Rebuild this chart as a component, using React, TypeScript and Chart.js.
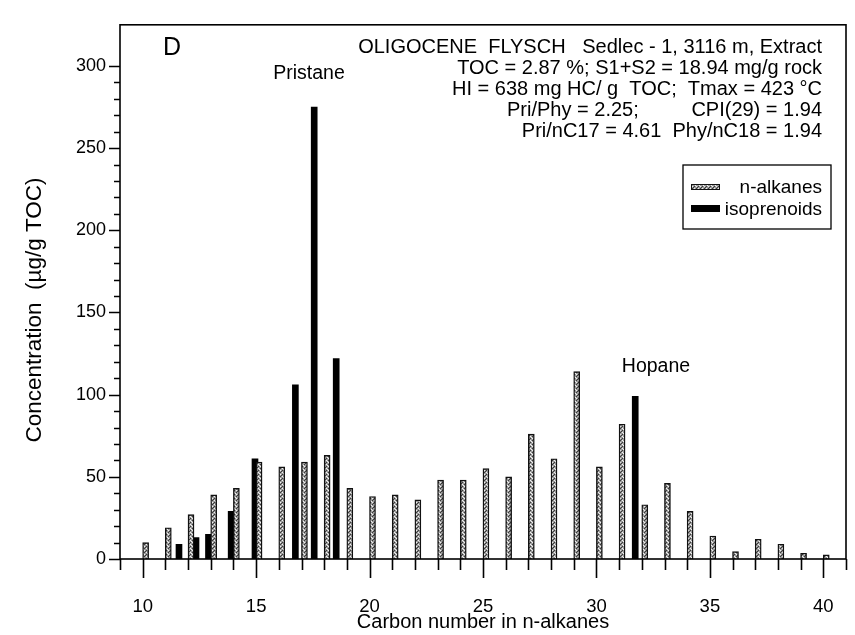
import React, { useEffect, useRef } from 'react';
import { Chart, registerables } from 'chart.js';

Chart.register(...registerables);

// ---- data ----
const nAlkaneCarbons = [10, 11, 12, 13, 14, 15, 16, 17, 18, 19, 20, 21, 22, 23, 24, 25, 26, 27, 28, 29, 30, 31, 32, 33, 34, 35, 36, 37, 38, 39, 40];
const nAlkaneValues = [10, 19, 27, 39, 43, 59, 56, 59, 63, 43, 38, 39, 36, 48, 48, 55, 50, 76, 61, 114, 56, 82, 33, 46, 29, 14, 4.5, 12, 9, 3.5, 2.5];

const isoprenoidPositions = [11.6, 12.35, 12.9, 13.9, 14.95, 16.73, 17.56, 18.53, 31.71];
const isoprenoidValues = [9, 13, 15, 29, 61, 106, 275, 122, 99];

const xTickLabels = [10, 15, 20, 25, 30, 35, 40];
const yTickLabels = [0, 50, 100, 150, 200, 250, 300];

const seriesNames = ['n-alkanes', 'isoprenoids'];
const xTitle = 'Carbon number in n-alkanes';
const yTitle = 'Concentration  (\u00b5g/g TOC)';
const panelLetter = 'D';
const infoLines = [
  'OLIGOCENE  FLYSCH   Sedlec - 1, 3116 m, Extract',
  'TOC = 2.87 %; S1+S2 = 18.94 mg/g rock',
  'HI = 638 mg HC/ g  TOC;  Tmax = 423 \u00b0C',
];
const infoLine4Left = 'Pri/Phy = 2.25;';
const infoLine4Right = 'CPI(29) = 1.94';
const infoLine5 = 'Pri/nC17 = 4.61  Phy/nC18 = 1.94';
const peakLabels = ['Pristane', 'Hopane'];

const FONT = '"Liberation Sans", Arial, Helvetica, sans-serif';

function makeStipple(): CanvasPattern | string {
  const c = document.createElement('canvas');
  c.width = 4;
  c.height = 4;
  const g = c.getContext('2d');
  if (!g) return '#999';
  g.fillStyle = '#9c9c9c';
  g.fillRect(0, 0, 4, 4);
  g.fillStyle = '#3a3a3a';
  g.fillRect(0, 0, 1, 1);
  g.fillRect(2, 2, 1, 1);
  g.fillRect(1, 3, 1, 1);
  g.fillStyle = '#f2f2f2';
  g.fillRect(2, 0, 1, 1);
  g.fillRect(0, 2, 1, 1);
  g.fillRect(3, 1, 1, 1);
  return g.createPattern(c, 'repeat') || '#999';
}

export default function App() {
  const ref = useRef<HTMLCanvasElement | null>(null);

  useEffect(() => {
    if (!ref.current) return;
    const stipple = makeStipple();

    const overlay = {
      id: 'overlay',
      afterDatasetsDraw(chart: any) {
        const { ctx, chartArea: a, scales } = chart;
        const xs = scales.x;
        const ys = scales.y;
        ctx.save();
        ctx.strokeStyle = '#000';
        ctx.lineWidth = 1.6;
        ctx.strokeRect(a.left, a.top, a.right - a.left, a.bottom - a.top);
        // ticks
        ctx.beginPath();
        for (let v = Math.ceil(xs.min); v <= xs.max; v++) {
          const px = Math.round(xs.getPixelForValue(v)) + 0.5;
          const len = v % 5 === 0 ? 19 : 11;
          ctx.moveTo(px, a.bottom);
          ctx.lineTo(px, a.bottom + len);
        }
        for (let v = 0; v <= yTickLabels[yTickLabels.length - 1]; v += 10) {
          const py = Math.round(ys.getPixelForValue(v)) + 0.5;
          const len = v % 50 === 0 ? 11 : 6;
          ctx.moveTo(a.left, py);
          ctx.lineTo(a.left - len, py);
        }
        ctx.stroke();

        ctx.fillStyle = '#000';
        ctx.textBaseline = 'alphabetic';
        // panel letter
        ctx.font = `25px ${FONT}`;
        ctx.textAlign = 'left';
        ctx.fillText(panelLetter, 163, 55);

        // info lines
        ctx.font = `20px ${FONT}`;
        ctx.textAlign = 'right';
        const baselines = [53, 74, 95, 116, 137];
        infoLines.forEach((t, i) => ctx.fillText(t, 822, baselines[i]));
        ctx.fillText(infoLine4Right, 822, baselines[3]);
        ctx.textAlign = 'left';
        ctx.fillText(infoLine4Left, 507, baselines[3]);
        ctx.textAlign = 'right';
        ctx.fillText(infoLine5, 822, baselines[4]);

        // peak labels
        ctx.font = `19.5px ${FONT}`;
        ctx.textAlign = 'center';
        ctx.fillText(peakLabels[0], 309, 79);
        ctx.fillText(peakLabels[1], 656, 372);

        // legend
        const lx0 = 683, ly0 = 165, lx1 = 831, ly1 = 229;
        ctx.lineWidth = 1.3;
        ctx.strokeRect(lx0, ly0, lx1 - lx0, ly1 - ly0);
        ctx.fillStyle = stipple as any;
        ctx.fillRect(691, 184, 29, 6);
        ctx.strokeStyle = '#111';
        ctx.lineWidth = 1;
        ctx.strokeRect(691.5, 184.5, 28, 5);
        ctx.fillStyle = '#000';
        ctx.fillRect(691, 205, 29, 7);
        ctx.font = `19px ${FONT}`;
        ctx.textAlign = 'right';
        ctx.fillText(seriesNames[0], 822, 193);
        ctx.fillText(seriesNames[1], 822, 215);

        // axis titles
        ctx.font = `20px ${FONT}`;
        ctx.textAlign = 'center';
        ctx.fillText(xTitle, (a.left + a.right) / 2, 628);
        ctx.save();
        ctx.translate(41, 310);
        ctx.rotate(-Math.PI / 2);
        ctx.font = `22.5px ${FONT}`;
        ctx.fillText(yTitle, 0, 0);
        ctx.restore();

        ctx.restore();
      },
    };

    const chart = new Chart(ref.current, {
      type: 'bar',
      data: {
        datasets: [
          {
            label: seriesNames[0],
            data: nAlkaneCarbons.map((c, i) => ({ x: c, y: nAlkaneValues[i] })),
            xAxisID: 'xs',
            yAxisID: 'y',
            backgroundColor: stipple as any,
            borderColor: '#111',
            borderWidth: 1.4,
            barThickness: 6,
            grouped: false,
          },
          {
            label: seriesNames[1],
            data: isoprenoidPositions.map((p, i) => ({ x: p, y: isoprenoidValues[i] })),
            xAxisID: 'x',
            yAxisID: 'y',
            backgroundColor: '#000',
            borderWidth: 0,
            barThickness: 6,
            grouped: false,
          },
        ],
      },
      options: {
        responsive: false,
        animation: false,
        devicePixelRatio: 1,
        layout: { padding: { left: 0, top: 11, right: 9, bottom: 0 } },
        plugins: { legend: { display: false }, tooltip: { enabled: false } },
        scales: {
          x: {
            type: 'linear',
            position: 'bottom',
            offset: false,
            min: 9,
            max: 41,
            grid: { display: false, drawTicks: true, tickLength: 34, offset: false },
            border: { display: false },
            afterBuildTicks: (s: any) => {
              s.ticks = xTickLabels.map((v) => ({ value: v }));
            },
            afterFit: (s: any) => {
              s.height = 76;
            },
            ticks: {
              padding: 3,
              color: '#000',
              font: { family: FONT, size: 18.5 },
              maxRotation: 0,
              autoSkip: false,
            },
          },
          xs: {
            type: 'linear',
            display: false,
            offset: false,
            grid: { offset: false },
            min: 9 - 0.13,
            max: 41 - 0.13,
          },
          y: {
            type: 'linear',
            min: 0,
            max: 325,
            grid: { display: false, drawTicks: false },
            border: { display: false },
            afterBuildTicks: (s: any) => {
              s.ticks = yTickLabels.map((v) => ({ value: v }));
            },
            afterFit: (s: any) => {
              s.width = 120;
            },
            ticks: {
              padding: 14,
              color: '#000',
              font: { family: FONT, size: 18 },
            },
          },
        },
      },
      plugins: [overlay],
    });

    return () => chart.destroy();
  }, []);

  return (
    <div style={{ position: 'fixed', left: 0, top: 0, width: 855, height: 635, background: '#fff' }}>
      <canvas ref={ref} width={855} height={635} />
    </div>
  );
}
